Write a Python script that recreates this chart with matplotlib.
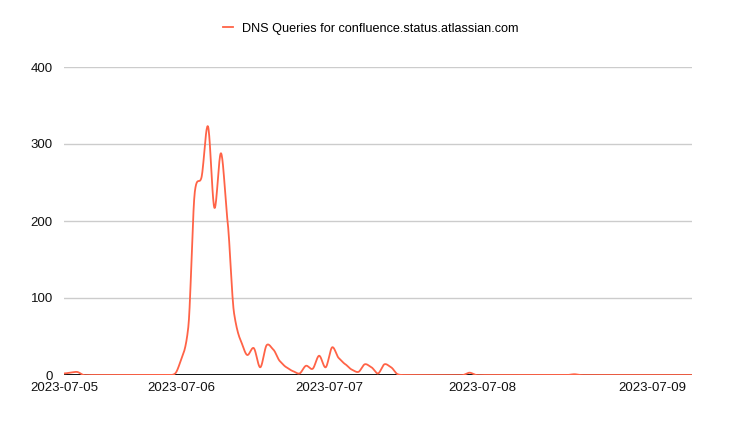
import numpy as np
import matplotlib.pyplot as plt

# DNS query counts per sample
queries = [2, 3, 4, 0, 0, 0, 0, 0, 0, 0,
           0, 0, 0, 0, 0, 0, 0, 2, 22, 62,
           238, 256, 323, 217, 288, 200, 80, 45, 26, 35,
           10, 39, 33, 18, 10, 5, 2, 12, 8, 25,
           10, 36, 22, 14, 7, 4, 14, 10, 2, 14,
           10, 1, 0, 0, 0, 0, 0, 0, 0, 0,
           0, 0, 3, 0, 0, 0, 0, 0, 0, 0,
           0, 0, 0, 0, 0, 0, 0, 0, 1, 0,
           0, 0, 0, 0, 0, 0, 0, 0, 0, 0,
           0, 0, 0, 0, 0, 0, 0]
tick_idx = [0, 18, 40.5, 64, 90]
tick_labels = ['2023-07-05', '2023-07-06', '2023-07-07', '2023-07-08', '2023-07-09']
series_name = 'DNS Queries for confluence.status.atlassian.com'


# curva suave (hermite cardinal, parecido com o "function" do Google Charts)
def smooth(y, steps=20, k=0.35):
    y = np.asarray(y, dtype=float)
    p = np.concatenate([[y[0]], y, [y[-1]]])
    xs, ys = [], []
    for i in range(len(y) - 1):
        p0, p1, p2, p3 = p[i], p[i + 1], p[i + 2], p[i + 3]
        t = np.linspace(0, 1, steps, endpoint=False)
        m1 = (p2 - p0) * k
        m2 = (p3 - p1) * k
        h00 = 2 * t**3 - 3 * t**2 + 1
        h10 = t**3 - 2 * t**2 + t
        h01 = -2 * t**3 + 3 * t**2
        h11 = t**3 - t**2
        xs.append(i + t)
        ys.append(h00 * p1 + h10 * m1 + h01 * p2 + h11 * m2)
    xs.append([len(y) - 1])
    ys.append([y[-1]])
    return np.concatenate(xs), np.concatenate(ys)


plt.rcParams['font.family'] = ['Liberation Sans', 'DejaVu Sans']
fig = plt.figure(figsize=(7.56, 4.32), dpi=100)
ax = fig.add_axes([64 / 756, 57 / 432, 628 / 756, 308 / 432])

xs, ys = smooth(queries)
ax.plot(xs, ys, color='tomato', linewidth=1.3, label=series_name, zorder=3)
ax.axhline(0, color='black', linewidth=1.3, zorder=2)

ax.set_xlim(0, len(queries) - 1)
ax.set_ylim(0, 400)
ax.set_yticks([0, 100, 200, 300, 400])
ax.set_xticks(tick_idx)
ax.set_xticklabels(tick_labels)
ax.grid(axis='y', color='#cccccc', linewidth=1)
ax.set_axisbelow(True)
for s in ax.spines.values():
    s.set_visible(False)
ax.tick_params(length=0, labelsize=9.5, colors='#111111')
ax.tick_params(axis='y', pad=8)
ax.tick_params(axis='x', pad=5)

ax.legend(loc='upper center', bbox_to_anchor=(0.49, 1.0), bbox_transform=fig.transFigure,
          frameon=False, fontsize=9.1, handlelength=0.8, handletextpad=0.7,
          borderaxespad=1.4)

fig.savefig('out.png', dpi=100)
